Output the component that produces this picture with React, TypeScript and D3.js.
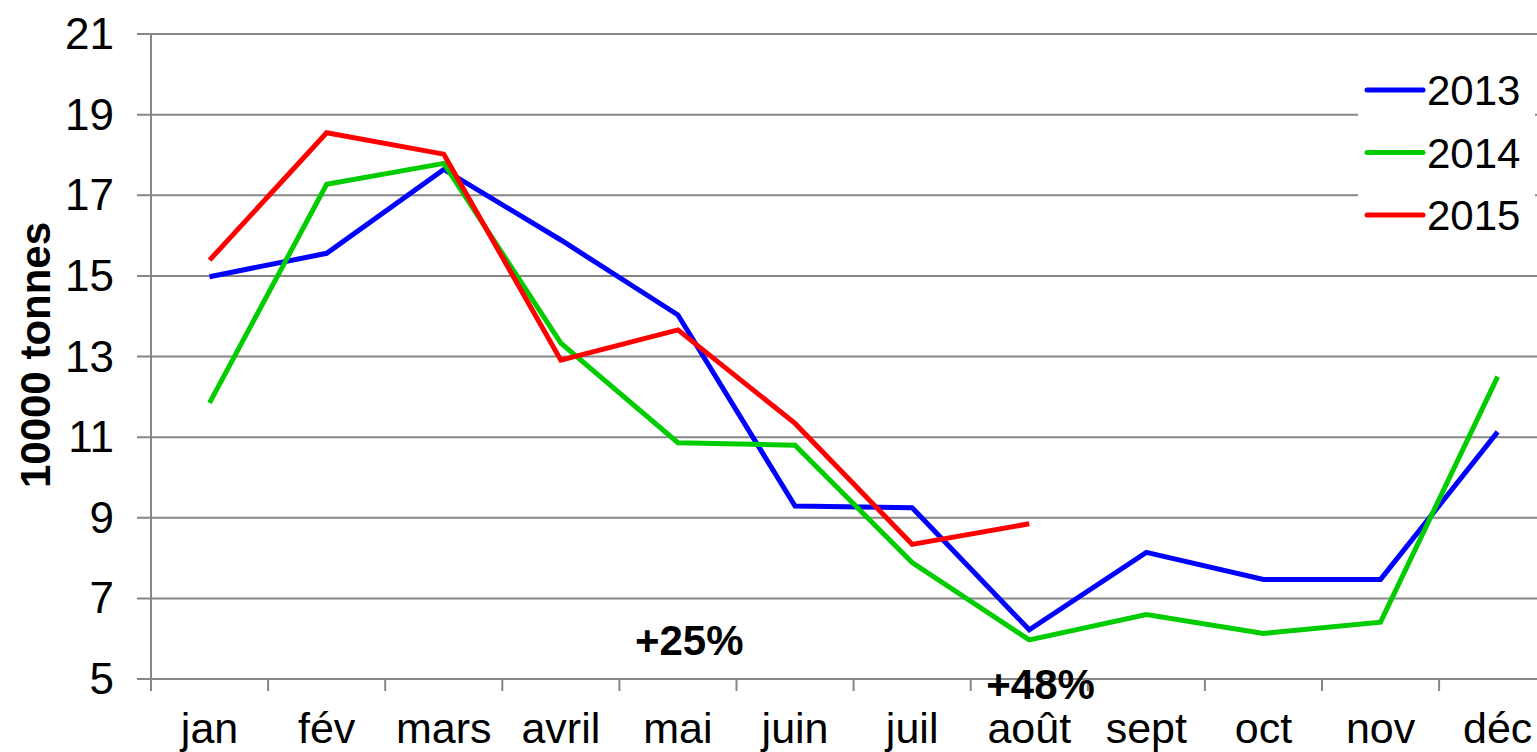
import { useEffect, useRef } from 'react';
import * as d3 from 'd3';

const MONTHS = ['jan', 'fév', 'mars', 'avril', 'mai', 'juin', 'juil', 'août', 'sept', 'oct', 'nov', 'déc'];
const Y_TICKS = [5, 7, 9, 11, 13, 15, 17, 19, 21];

const V2013 = [14.98, 15.56, 17.64, 15.89, 14.03, 9.29, 9.25, 6.22, 8.14, 7.47, 7.47, 11.13];
const V2014 = [11.85, 17.27, 17.79, 13.33, 10.86, 10.8, 7.89, 5.97, 6.6, 6.13, 6.41, 12.5];
const V2015 = [15.39, 18.55, 18.02, 12.91, 13.66, 11.34, 8.34, 8.85];

const SERIES = [
  { name: '2013', values: V2013, color: '#0000ff' },
  { name: '2014', values: V2014, color: '#00cc00' },
  { name: '2015', values: V2015, color: '#ff0000' },
];

const NOTES = [
  { text: '+25%', month: 'mai', value: 5.6 },
  { text: '+48%', month: 'août', value: 4.5 },
];

const FONT = 'Liberation Sans, Arial, sans-serif';

export default function App() {
  const svgRef = useRef<SVGSVGElement>(null);

  useEffect(() => {
    const svg = d3.select(svgRef.current);
    svg.selectAll('*').remove();

    const width = 1537;
    const height = 752;
    const left = 151;
    const band = 117.1;

    const x = d3.scaleBand().domain(MONTHS).range([left, left + band * 12]).padding(0);
    const y = d3.scaleLinear().domain([5, 21]).range([679, 34]);
    const cx = (m: string) => (x(m) ?? 0) + x.bandwidth() / 2;

    // horizontal grid + left tick stubs
    svg.append('g')
      .selectAll('line')
      .data(Y_TICKS)
      .join('line')
      .attr('x1', 137).attr('x2', width)
      .attr('y1', d => y(d)).attr('y2', d => y(d))
      .attr('stroke', '#868686').attr('stroke-width', 2);

    // y axis line
    svg.append('line')
      .attr('x1', left).attr('x2', left)
      .attr('y1', y(21)).attr('y2', y(5) + 12)
      .attr('stroke', '#868686').attr('stroke-width', 2);

    // bottom ticks at band edges
    svg.append('g')
      .selectAll('line')
      .data(MONTHS.slice(1))
      .join('line')
      .attr('x1', d => x(d) ?? 0).attr('x2', d => x(d) ?? 0)
      .attr('y1', y(5)).attr('y2', y(5) + 12)
      .attr('stroke', '#868686').attr('stroke-width', 2);

    // y tick labels
    svg.append('g')
      .selectAll('text')
      .data(Y_TICKS)
      .join('text')
      .attr('x', 114)
      .attr('y', d => y(d) + 15)
      .attr('text-anchor', 'end')
      .attr('font-family', FONT)
      .attr('font-size', 44)
      .text(d => d);

    // x labels
    svg.append('g')
      .selectAll('text')
      .data(MONTHS)
      .join('text')
      .attr('x', d => cx(d))
      .attr('y', 743)
      .attr('text-anchor', 'middle')
      .attr('font-family', FONT)
      .attr('font-size', 43)
      .text(d => d);

    // y title
    svg.append('text')
      .attr('transform', 'translate(50,355) rotate(-90)')
      .attr('text-anchor', 'middle')
      .attr('font-family', FONT)
      .attr('font-weight', 'bold')
      .attr('font-size', 42)
      .text('10000 tonnes');

    const line = d3.line<number>()
      .x((_, i) => cx(MONTHS[i]))
      .y(d => y(d));

    svg.append('g')
      .selectAll('path')
      .data(SERIES)
      .join('path')
      .attr('d', d => line(d.values))
      .attr('fill', 'none')
      .attr('stroke', d => d.color)
      .attr('stroke-width', 5)
      .attr('stroke-linejoin', 'miter');

    // legend
    svg.append('rect')
      .attr('x', 1358).attr('y', 56)
      .attr('width', 177).attr('height', 184)
      .attr('fill', '#fff');

    const lg = svg.append('g')
      .selectAll('g')
      .data(SERIES)
      .join('g')
      .attr('transform', (_, i) => `translate(1367, ${90 + i * 62.5})`);
    lg.append('line')
      .attr('x1', 0).attr('x2', 56)
      .attr('stroke', d => d.color)
      .attr('stroke-width', 5)
      .attr('stroke-linecap', 'round');
    lg.append('text')
      .attr('x', 60).attr('y', 15)
      .attr('font-family', FONT)
      .attr('font-size', 42)
      .text(d => d.name);

    // annotations
    svg.append('g')
      .selectAll('text')
      .data(NOTES)
      .join('text')
      .attr('x', d => cx(d.month) - 43)
      .attr('y', d => y(d.value))
      .attr('font-family', FONT)
      .attr('font-weight', 'bold')
      .attr('font-size', 42)
      .text(d => d.text);

    svg.attr('width', width).attr('height', height);
  }, []);

  return (
    <svg
      ref={svgRef}
      style={{ position: 'absolute', left: 0, top: 0, background: '#fff', display: 'block' }}
    />
  );
}
